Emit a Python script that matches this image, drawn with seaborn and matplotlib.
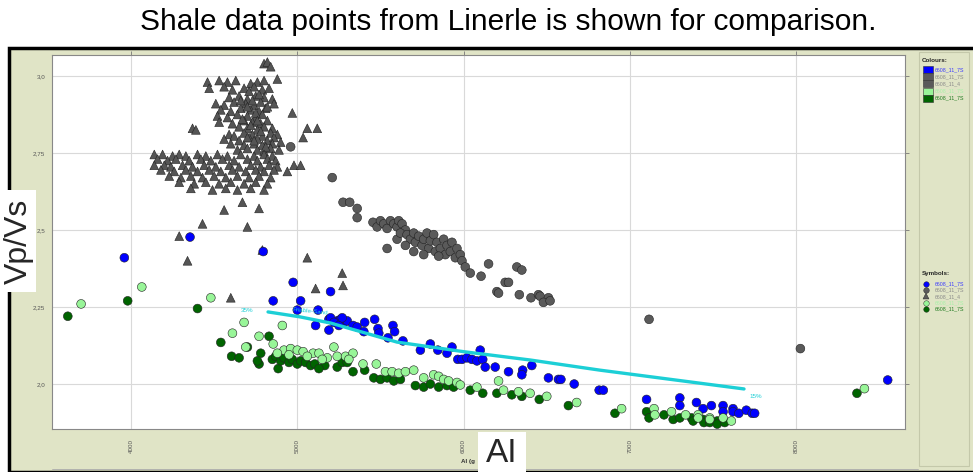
import matplotlib
matplotlib.use("Agg")
import matplotlib.pyplot as plt
from matplotlib.patches import Rectangle
from matplotlib.lines import Line2D
import pandas as pd
import seaborn as sns

sns.set_style("white")
plt.rcParams["font.family"] = ["Liberation Sans", "DejaVu Sans"]

# ---- data (AI, Vp/Vs) ----
tri_pts = [
    (4800, 3.04), (4820, 3.045), (4840, 3.03),
    (4460, 2.98), (4530, 2.985), (4580, 2.98), (4630, 2.985), (4720, 2.975), (4760, 2.98), (4800, 2.985), (4880, 2.99),
    (4470, 2.96), (4560, 2.965), (4610, 2.955), (4680, 2.96), (4740, 2.965), (4790, 2.955), (4830, 2.96),
    (4590, 2.93), (4650, 2.935), (4700, 2.925), (4750, 2.935), (4800, 2.93), (4850, 2.925),
    (4510, 2.91), (4560, 2.905), (4620, 2.915), (4690, 2.91), (4740, 2.905), (4780, 2.915), (4860, 2.91),
    (4540, 2.89), (4600, 2.885), (4660, 2.895), (4720, 2.89), (4770, 2.885), (4810, 2.895),
    (4520, 2.87), (4580, 2.865), (4640, 2.875), (4700, 2.87), (4750, 2.865), (4790, 2.875), (4970, 2.88),
    (4530, 2.85), (4610, 2.845), (4680, 2.855), (4730, 2.85), (4780, 2.845), (4820, 2.855),
    (4370, 2.83), (4390, 2.825), (4650, 2.835), (4700, 2.83), (4760, 2.825), (4800, 2.835), (4850, 2.83), (5060, 2.83), (5120, 2.83),
    (4590, 2.81), (4620, 2.805), (4680, 2.815), (4730, 2.81), (4790, 2.805), (4840, 2.815), (4880, 2.81),
    (4560, 2.795), (4650, 2.79), (4710, 2.80), (4760, 2.795), (4820, 2.79), (4860, 2.80), (5035, 2.80),
    (4600, 2.78), (4680, 2.775), (4740, 2.78), (4790, 2.775), (4850, 2.78), (4900, 2.785),
    (4640, 2.76), (4700, 2.765), (4760, 2.76), (4800, 2.755), (4840, 2.765), (4890, 2.76),
    (4710, 2.95), (4770, 2.94), (4660, 2.92), (4730, 2.92), (4820, 2.90), (4700, 2.90), (4750, 2.88),
    (4670, 2.86), (4760, 2.855), (4720, 2.84), (4780, 2.82), (4700, 2.80), (4740, 2.79), (4810, 2.77),
    (4140, 2.745), (4190, 2.745), (4250, 2.74), (4290, 2.745), (4330, 2.74), (4400, 2.745), (4450, 2.74),
    (4520, 2.745), (4580, 2.74), (4660, 2.745), (4740, 2.74), (4800, 2.745), (4850, 2.74),
    (4160, 2.73), (4220, 2.725), (4270, 2.73), (4350, 2.725), (4420, 2.73), (4480, 2.725), (4550, 2.73),
    (4620, 2.725), (4700, 2.73), (4760, 2.725), (4820, 2.73), (4870, 2.725),
    (4140, 2.71), (4200, 2.71), (4240, 2.705), (4310, 2.71), (4370, 2.705), (4440, 2.71), (4510, 2.705),
    (4590, 2.71), (4650, 2.705), (4720, 2.71), (4780, 2.705), (4830, 2.71), (4880, 2.705), (4980, 2.71), (5020, 2.71),
    (4180, 2.695), (4260, 2.69), (4330, 2.695), (4400, 2.69), (4470, 2.695), (4540, 2.69), (4610, 2.695),
    (4690, 2.69), (4750, 2.695), (4800, 2.69), (4860, 2.695), (4940, 2.69),
    (4230, 2.675), (4300, 2.67), (4360, 2.675), (4430, 2.67), (4500, 2.675), (4570, 2.67), (4640, 2.675),
    (4710, 2.67), (4770, 2.675), (4840, 2.67),
    (4290, 2.655), (4380, 2.65), (4450, 2.655), (4530, 2.65), (4600, 2.655), (4680, 2.65), (4750, 2.655), (4820, 2.65),
    (4360, 2.635), (4490, 2.63), (4570, 2.635), (4640, 2.63), (4720, 2.635), (4800, 2.63),
    (4560, 2.565), (4670, 2.59), (4770, 2.57), (4430, 2.52), (4700, 2.51), (4290, 2.48), (4790, 2.435),
    (4340, 2.40), (5060, 2.41), (5270, 2.36), (5275, 2.32), (5110, 2.31), (4600, 2.28),
]

grey_pts = [
    (4960, 2.77), (5210, 2.67), (5275, 2.59), (5315, 2.59), (5360, 2.57), (5360, 2.54),
    (5455, 2.525), (5480, 2.51), (5500, 2.53), (5520, 2.52), (5540, 2.505), (5560, 2.53), (5580, 2.52),
    (5600, 2.51), (5610, 2.53), (5630, 2.52), (5650, 2.50), (5540, 2.44), (5600, 2.47), (5620, 2.49),
    (5660, 2.485), (5680, 2.47), (5700, 2.49), (5710, 2.46), (5730, 2.48), (5750, 2.45), (5760, 2.47),
    (5780, 2.49), (5790, 2.44), (5800, 2.465), (5820, 2.485), (5830, 2.43), (5840, 2.46), (5860, 2.44),
    (5880, 2.47), (5890, 2.42), (5900, 2.45), (5920, 2.43), (5930, 2.46), (5950, 2.41), (5960, 2.44),
    (5980, 2.42), (5990, 2.40), (5700, 2.43), (5650, 2.45), (5850, 2.415), (5760, 2.42),
    (6010, 2.38), (6040, 2.36), (6105, 2.35), (6150, 2.39), (6320, 2.38), (6350, 2.37), (6250, 2.33),
    (6270, 2.33), (6200, 2.30), (6210, 2.295), (6335, 2.29), (6405, 2.28), (6450, 2.29), (6460, 2.285),
    (6510, 2.28), (6480, 2.265), (6520, 2.27), (7115, 2.21), (8025, 2.115),
]

blue_pts = [
    (3960, 2.41), (4355, 2.477), (4795, 2.43), (4975, 2.33), (5020, 2.27), (4855, 2.27), (5200, 2.30),
    (5000, 2.24), (5125, 2.24), (5190, 2.21), (5240, 2.205), (5260, 2.21), (5280, 2.20), (5300, 2.205),
    (5200, 2.215), (5220, 2.20), (5250, 2.19), (5270, 2.215), (5110, 2.19), (5190, 2.175), (5335, 2.19),
    (5360, 2.185), (5405, 2.20), (5400, 2.17), (5465, 2.21), (5485, 2.18), (5490, 2.165), (5545, 2.15),
    (5575, 2.19), (5585, 2.17), (5635, 2.14), (5740, 2.11), (5800, 2.13), (5845, 2.11), (5900, 2.10),
    (5930, 2.12), (5965, 2.08), (5990, 2.08), (6020, 2.085), (6050, 2.08), (6080, 2.075), (6115, 2.08),
    (6100, 2.11), (6130, 2.055), (6190, 2.055), (6270, 2.04), (6355, 2.045), (6350, 2.03), (6410, 2.06),
    (6510, 2.02), (6570, 2.015), (6585, 2.015), (6665, 2.0), (6815, 1.98), (6840, 1.98), (7100, 1.95),
    (7300, 1.955), (7300, 1.93), (7400, 1.94), (7440, 1.92), (7490, 1.93), (7560, 1.93), (7560, 1.91),
    (7620, 1.92), (7620, 1.91), (7655, 1.905), (7700, 1.915), (7735, 1.905), (7750, 1.905), (8550, 2.013),
]

dgreen_pts = [
    (3620, 2.22), (3980, 2.27), (4400, 2.245), (4540, 2.135), (4605, 2.09), (4700, 2.12), (4780, 2.10),
    (4770, 2.065), (4830, 2.155), (4885, 2.05), (4850, 2.08), (4870, 2.09), (4900, 2.075), (4920, 2.085),
    (4950, 2.07), (4970, 2.08), (5000, 2.065), (5020, 2.075), (5050, 2.07), (5080, 2.06), (5105, 2.065),
    (5165, 2.06), (5240, 2.055), (5270, 2.07), (5300, 2.07), (5335, 2.04), (5405, 2.045), (5460, 2.02),
    (5500, 2.015), (5540, 2.02), (5580, 2.01), (5620, 2.015), (5710, 1.995), (5760, 1.99), (5800, 2.0),
    (5850, 1.99), (5900, 1.995), (5940, 1.99), (6040, 1.98), (6115, 1.97), (6200, 1.97), (6290, 1.965),
    (6350, 1.96), (6455, 1.95), (6630, 1.93), (6910, 1.905), (7100, 1.91), (7115, 1.89), (7205, 1.90),
    (7260, 1.885), (7300, 1.89), (7370, 1.89), (7380, 1.88), (7440, 1.885), (7445, 1.875), (7480, 1.875),
    (7525, 1.88), (7525, 1.87), (7570, 1.875), (8365, 1.97), (4650, 2.085), (4760, 2.075), (5130, 2.05),
]

lgreen_pts = [
    (3700, 2.26), (4065, 2.315), (4480, 2.28), (4910, 2.19), (4680, 2.20), (4610, 2.165), (4770, 2.155),
    (4690, 2.12), (4855, 2.13), (5220, 2.12), (4920, 2.11), (4960, 2.115), (5000, 2.11), (5035, 2.105),
    (5095, 2.10), (5130, 2.10), (5180, 2.085), (5240, 2.09), (5290, 2.09), (5335, 2.10), (5310, 2.08),
    (5395, 2.065), (5475, 2.065), (5530, 2.04), (5570, 2.04), (5610, 2.035), (5650, 2.04), (5700, 2.045),
    (5760, 2.02), (5820, 2.03), (5850, 2.025), (5880, 2.015), (5910, 2.01), (5960, 2.005), (5980, 1.997),
    (6080, 1.99), (6210, 2.01), (6240, 1.98), (6330, 1.975), (6400, 1.97), (6500, 1.96), (6680, 1.94),
    (6950, 1.92), (7145, 1.92), (7150, 1.90), (7250, 1.91), (7335, 1.90), (7410, 1.90), (7410, 1.89),
    (7480, 1.89), (7480, 1.885), (7560, 1.89), (7610, 1.88), (8410, 1.985),
    (4950, 2.095), (5060, 2.09), (4880, 2.10), (5150, 2.08),
]

# cyan trend line (friable sand)
line_ai = [4824, 5016, 5200, 5600, 6000, 6400, 6820, 7686]
line_vpvs = [2.234, 2.218, 2.198, 2.136, 2.105, 2.078, 2.045, 1.984]

x_ticks = [4000, 5000, 6000, 7000, 8000]
y_ticks = [2.0, 2.25, 2.5, 2.75, 3.0]
y_tick_labels = ["2,0", "2,25", "2,5", "2,75", "3,0"]

legend_colours = ["#0000ff", "#5a5a5a", "#5a5a5a", "#98f598", "#006400"]
legend_text_colours = ["#3a3aff", "#8a8a8a", "#8a8a8a", "#a8f0a8", "#1f7a1f"]
legend_labels = ["6608_11_7S", "6608_11_7S", "6608_11_4", "6608_11_7S", "6608_11_7S"]
legend_markers = ["o", "o", "^", "o", "o"]

W, H = 973, 472


def fxy(px, py):
    return px / W, 1 - py / H


frames = []
for name, pts in [("tri", tri_pts), ("grey", grey_pts), ("blue", blue_pts),
                  ("dgreen", dgreen_pts), ("lgreen", lgreen_pts)]:
    d = pd.DataFrame(pts, columns=["AI", "VpVs"])
    d["group"] = name
    frames.append(d)
df = pd.concat(frames, ignore_index=True)

palette = {"tri": "#555555", "grey": "#5a5a5a", "blue": "#0000ff",
           "dgreen": "#006400", "lgreen": "#98f598"}
markers = {"tri": "^", "grey": "o", "blue": "o", "dgreen": "o", "lgreen": "o"}

fig = plt.figure(figsize=(W / 100, H / 100), dpi=100)
fig.patch.set_facecolor("white")

# olive panel with black frame
fig.patches.append(Rectangle(fxy(9, 472), 1 - 9 / W + 0.01, (472 - 48) / H,
                             transform=fig.transFigure, facecolor="#e0e4c6",
                             edgecolor="black", linewidth=2.5, zorder=-2))
# legend box
fig.patches.append(Rectangle(fxy(919, 466), 50 / W, (466 - 52) / H,
                             transform=fig.transFigure, facecolor="#e0e4c6",
                             edgecolor="#c4c8aa", linewidth=0.8, zorder=-1))

ax = fig.add_axes([52 / W, 1 - 429 / H, (905 - 52) / W, (429 - 55) / H])
ax.set_zorder(1)
ax.set_facecolor("white")

sns.scatterplot(data=df, x="AI", y="VpVs", hue="group", style="group",
                palette=palette, markers=markers, s=40, edgecolor="#222222",
                linewidth=0.4, legend=False, ax=ax, zorder=3)

sns.lineplot(x=line_ai, y=line_vpvs, sort=False, color="#1ccfd6", linewidth=2.4,
             ax=ax, zorder=4)
ax.text(4700, 2.238, "35%", color="#1ccfd6", fontsize=4.5, ha="center", va="center", zorder=5)
ax.text(5080, 2.222, "Friable-Sand", color="#1ccfd6", fontsize=4.5, rotation=-6,
        ha="center", va="bottom", zorder=5)
ax.text(7720, 1.958, "15%", color="#1ccfd6", fontsize=4.5, ha="left", va="center", zorder=5)

ax.set_xlim(3525, 8654)
ax.set_ylim(1.854, 3.068)
ax.set_xticks(x_ticks)
ax.set_xticklabels([str(v) for v in x_ticks], rotation=90, fontsize=4.5, color="#555555")
ax.set_yticks(y_ticks)
ax.set_yticklabels(y_tick_labels, fontsize=4.5, color="#555555")
ax.tick_params(axis="both", direction="out", length=3, width=0.6, color="#777777", pad=2)
ax.tick_params(axis="x", top=True, pad=4)
ax.tick_params(axis="y", right=True)
ax.grid(True, color="#d9d9d9", linewidth=0.8, zorder=0)
ax.set_axisbelow(True)
for sp in ax.spines.values():
    sp.set_color("#888888")
    sp.set_linewidth(0.8)
ax.set_xlabel("")
ax.set_ylabel("")

# small axis label, its tail hidden behind the big "AI" box
fig.text(*fxy(461, 462), "AI (g", fontsize=4.5, fontweight="bold",
         color="#333333", ha="left", va="center", zorder=2)
fig.add_artist(Line2D([52 / W, 918 / W], [1 - 469 / H, 1 - 469 / H],
                      color="#aaaaaa", linewidth=0.6, zorder=2))

# title
fig.text(*fxy(508, 22), "Shale data points from Linerle is shown for comparison.",
         fontsize=21.5, ha="center", va="center", color="black")

# big overlay labels on white boxes
fig.patches.append(Rectangle(fxy(0, 292), 36 / W, 102 / H, transform=fig.transFigure,
                             facecolor="white", edgecolor="none", zorder=5))
fig.text(*fxy(19, 241), "Vp/Vs", fontsize=23, rotation=90, ha="center", va="center", zorder=6)
fig.patches.append(Rectangle(fxy(478, 472), 48 / W, 40 / H, transform=fig.transFigure,
                             facecolor="white", edgecolor="none", zorder=5))
fig.text(*fxy(502, 454), "AI", fontsize=24, ha="center", va="center", zorder=6)

# colour legend
fig.text(*fxy(922, 60), "Colours:", fontsize=4.5, fontweight="bold", va="center")
for i, (c, tc, lab) in enumerate(zip(legend_colours, legend_text_colours, legend_labels)):
    y = 66 + i * 7.2
    fig.patches.append(Rectangle(fxy(923, y + 7), 10 / W, 7 / H, transform=fig.transFigure,
                                 facecolor=c, edgecolor="#333333", linewidth=0.4, zorder=3))
    fig.text(*fxy(935, y + 3.5), lab, fontsize=3.8, color=tc, va="center")

# symbol legend
fig.text(*fxy(922, 274), "Symbols:", fontsize=4.5, fontweight="bold", va="center")
for i, (c, tc, lab, m) in enumerate(zip(legend_colours, legend_text_colours, legend_labels, legend_markers)):
    y = 284 + i * 6.2
    fig.add_artist(Line2D([926 / W], [1 - y / H], marker=m, markersize=4, color=c,
                          markeredgecolor="#222222", markeredgewidth=0.3, linestyle="none"))
    fig.text(*fxy(935, y), lab, fontsize=3.8, color=tc, va="center")

fig.savefig("out.png", dpi=100)
